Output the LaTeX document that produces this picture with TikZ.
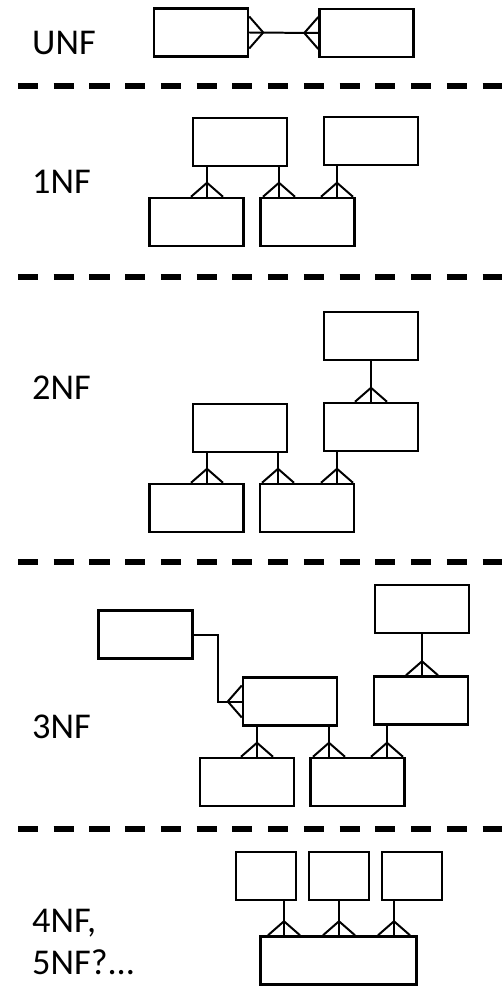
\documentclass[tikz,border=0pt]{standalone}
\usepackage{fontspec}
\setmainfont{Carlito}
\usetikzlibrary{calc}

\tikzset{
  tbl/.style={draw, line width=2.1pt, minimum width=2.82cm, minimum height=1.44cm, inner sep=0pt},
  narrowtbl/.style={tbl, minimum width=1.8cm},
  widetbl/.style={tbl, minimum width=4.68cm},
  link/.style={line width=1.7pt},
  level/.style={line width=4.3pt, dash pattern=on 17.1pt off 13.4pt},
  nf/.style={anchor=west, inner sep=0pt, align=left, font=\fontsize{31}{36}\selectfont},
  pics/crow/.style={code={\draw[link] (-16,0) -- (0,-14) -- (16,0);}}
}

\begin{document}
\begin{tikzpicture}[x=0.03cm, y=-0.03cm]
    \useasboundingbox (0,0) rectangle (502,986);

    % Separators
    \draw[level] (18,86) -- (502,86);
    \draw[level] (18,277) -- (502,277);
    \draw[level] (18,562) -- (502,562);
    \draw[level] (18,829) -- (502,829);

    % Labels
    \node[nf] (lunf) at (32,43) {UNF};
    \node[nf] (l1nf) at (32,182) {1NF};
    \node[nf] (l2nf) at (32,388) {2NF};
    \node[nf] (l3nf) at (32,727) {3NF};
    \node[nf] (l4nf) at (32,942) {4NF,\\5NF?...};

    % UNF
    \node[tbl] (ua) at (201,32.5) {};
    \node[tbl] (ub) at (366.5,33) {};
    \draw[link] (ua.east) -- (ub.west);
    \pic[rotate=-90] at (ua.east) {crow};
    \pic[rotate=90] at (ub.west) {crow};

    % 1NF
    \node[tbl] (oa) at (240,142) {};
    \node[tbl] (ob) at (371,141) {};
    \node[tbl] (oc) at (196.5,222) {};
    \node[tbl] (od) at (307.5,222) {};
    \draw[link] (oa.south -| 207,0) -- (oc.north -| 207,0);
    \draw[link] (oa.south -| 279,0) -- (od.north -| 279,0);
    \draw[link] (ob.south -| 337,0) -- (od.north -| 337,0);
    \pic at (oc.north -| 207,0) {crow};
    \pic at (od.north -| 279,0) {crow};
    \pic at (od.north -| 337,0) {crow};

    % 2NF
    \node[tbl] (ta) at (371,336) {};
    \node[tbl] (tb) at (240,428) {};
    \node[tbl] (tc) at (371,427) {};
    \node[tbl] (td) at (196.5,508) {};
    \node[tbl] (te) at (307,508) {};
    \draw[link] (ta.south -| 371,0) -- (tc.north -| 371,0);
    \draw[link] (tb.south -| 207,0) -- (td.north -| 207,0);
    \draw[link] (tb.south -| 278,0) -- (te.north -| 278,0);
    \draw[link] (tc.south -| 337,0) -- (te.north -| 337,0);
    \pic at (tc.north -| 371,0) {crow};
    \pic at (td.north -| 207,0) {crow};
    \pic at (te.north -| 278,0) {crow};
    \pic at (te.north -| 337,0) {crow};

    % 3NF
    \node[tbl] (ha) at (145.5,634.5) {};
    \node[tbl] (hb) at (422,609) {};
    \node[tbl] (hc) at (290,701.5) {};
    \node[tbl] (hd) at (421,700.5) {};
    \node[tbl] (he) at (247,782) {};
    \node[tbl] (hf) at (357.5,782) {};
    \draw[link] (ha.east) -- ++(24,0) |- (hc.west);
    \draw[link] (hb.south -| 422,0) -- (hd.north -| 422,0);
    \draw[link] (hc.south -| 257,0) -- (he.north -| 257,0);
    \draw[link] (hc.south -| 329,0) -- (hf.north -| 329,0);
    \draw[link] (hd.south -| 387,0) -- (hf.north -| 387,0);
    \pic[rotate=90] at (hc.west) {crow};
    \pic at (hd.north -| 422,0) {crow};
    \pic at (he.north -| 257,0) {crow};
    \pic at (hf.north -| 329,0) {crow};
    \pic at (hf.north -| 387,0) {crow};

    % 4NF
    \node[narrowtbl] (fa) at (266,876) {};
    \node[narrowtbl] (fb) at (339,876) {};
    \node[narrowtbl] (fc) at (412,876) {};
    \node[widetbl] (fd) at (338.5,960.5) {};
    \foreach \n/\x in {fa/284, fb/339, fc/394} {
        \draw[link] (\n.south -| \x,0) -- (fd.north -| \x,0);
        \pic at (fd.north -| \x,0) {crow};
    }
\end{tikzpicture}
\end{document}
